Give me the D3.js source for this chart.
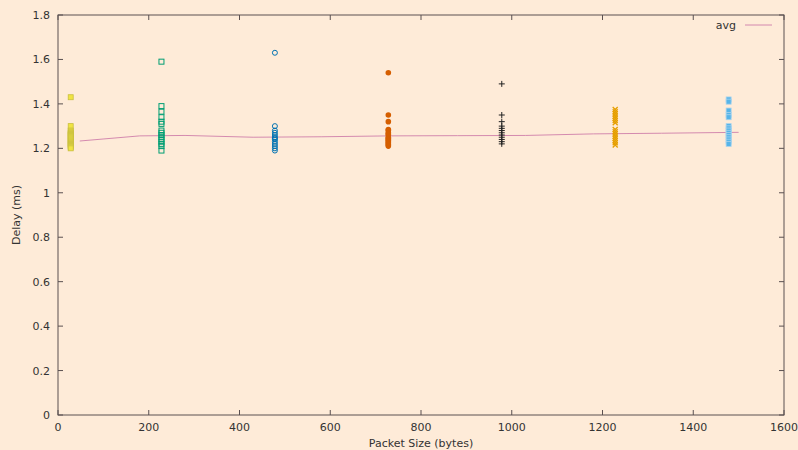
<!DOCTYPE html>
<html>
<head>
<meta charset="utf-8">
<script src="https://cdn.jsdelivr.net/npm/d3@7"></script>
<style>
  body { margin: 0; background: #feebd8; }
  svg { display: block; font-family: 'DejaVu Sans', sans-serif; }
</style>
</head>
<body>
<svg id="chart" width="798" height="450"></svg>
<script>
// packet sizes (bytes) of each sample group
const sizes = [28, 228, 478, 728, 978, 1228, 1478];

// delay samples (ms) per packet size
const d28 = [1.43, 1.30, 1.28, 1.275, 1.27, 1.265, 1.26, 1.255, 1.25, 1.245, 1.24, 1.235, 1.23, 1.225, 1.22, 1.215, 1.21, 1.205, 1.20];
const d228 = [1.59, 1.39, 1.365, 1.34, 1.32, 1.31, 1.28, 1.27, 1.26, 1.25, 1.24, 1.23, 1.22, 1.21, 1.19];
const d478 = [1.63, 1.30, 1.28, 1.27, 1.26, 1.25, 1.245, 1.24, 1.23, 1.22, 1.21, 1.20, 1.19];
const d728 = [1.54, 1.35, 1.32, 1.285, 1.28, 1.27, 1.265, 1.26, 1.25, 1.245, 1.24, 1.235, 1.23, 1.225, 1.22, 1.215, 1.21];
const d978 = [1.49, 1.35, 1.32, 1.30, 1.29, 1.28, 1.27, 1.26, 1.25, 1.24, 1.23, 1.22];
const d1228 = [1.375, 1.365, 1.355, 1.345, 1.335, 1.325, 1.315, 1.285, 1.275, 1.265, 1.255, 1.245, 1.235, 1.225, 1.215];
const d1478 = [1.42, 1.41, 1.37, 1.35, 1.34, 1.30, 1.29, 1.28, 1.27, 1.26, 1.25, 1.24, 1.23, 1.22];

// average curve
const avgX = [48, 180, 280, 430, 580, 730, 880, 1030, 1180, 1330, 1500];
const avgY = [1.233, 1.256, 1.258, 1.25, 1.252, 1.256, 1.257, 1.258, 1.265, 1.268, 1.272];

const xTicks = [0, 200, 400, 600, 800, 1000, 1200, 1400, 1600];
const yTicks = [0, 0.2, 0.4, 0.6, 0.8, 1, 1.2, 1.4, 1.6, 1.8];

const groups = [
  { values: d28, shape: 'sqfill', colour: '#f0e442', edge: '#c9bf3e' },
  { values: d228, shape: 'sqopen', colour: '#009e73' },
  { values: d478, shape: 'circopen', colour: '#0072b2' },
  { values: d728, shape: 'circfill', colour: '#d55e00' },
  { values: d978, shape: 'plus', colour: '#222222' },
  { values: d1228, shape: 'cross', colour: '#e69f00' },
  { values: d1478, shape: 'sqfill', colour: '#56b4e9', edge: '#a9d3ec' }
];

const svg = d3.select('#chart');
const mLeft = 58, mRight = 784, mTop = 15, mBottom = 415;
const axisCol = '#5a5050';

const x = d3.scaleLinear().domain([0, 1600]).range([mLeft, mRight]);
const y = d3.scaleLinear().domain([0, 1.8]).range([mBottom, mTop]);

// frame
svg.append('rect')
  .attr('x', mLeft).attr('y', mTop)
  .attr('width', mRight - mLeft).attr('height', mBottom - mTop)
  .attr('fill', 'none').attr('stroke', axisCol).attr('stroke-width', 1);

// ticks (inward, mirrored)
const tk = svg.append('g').attr('stroke', axisCol);
xTicks.forEach(t => {
  tk.append('line').attr('x1', x(t)).attr('x2', x(t)).attr('y1', mBottom).attr('y2', mBottom - 5);
  tk.append('line').attr('x1', x(t)).attr('x2', x(t)).attr('y1', mTop).attr('y2', mTop + 5);
});
yTicks.forEach(t => {
  tk.append('line').attr('x1', mLeft).attr('x2', mLeft + 5).attr('y1', y(t)).attr('y2', y(t));
  tk.append('line').attr('x1', mRight).attr('x2', mRight - 5).attr('y1', y(t)).attr('y2', y(t));
});

const lbl = svg.append('g').attr('fill', '#333').style('font-size', '11px');
xTicks.forEach(t => {
  lbl.append('text').attr('x', x(t)).attr('y', mBottom + 16)
    .attr('text-anchor', 'middle').text(t);
});
yTicks.forEach(t => {
  lbl.append('text').attr('x', mLeft - 8).attr('y', y(t) + 4)
    .attr('text-anchor', 'end').text(t);
});

lbl.append('text').attr('x', (mLeft + mRight) / 2).attr('y', 447)
  .attr('text-anchor', 'middle').text('Packet Size (bytes)');
lbl.append('text')
  .attr('transform', 'translate(20,' + ((mTop + mBottom) / 2) + ') rotate(-90)')
  .attr('text-anchor', 'middle').text('Delay (ms)');

// avg line
const line = d3.line()
  .x((d, i) => x(avgX[i]))
  .y(d => y(d));
svg.append('path')
  .attr('d', line(avgY))
  .attr('fill', 'none')
  .attr('stroke', '#cc79a7')
  .attr('stroke-opacity', 0.85)
  .attr('stroke-width', 1);

// points
const pts = svg.append('g');
groups.forEach((g, gi) => {
  const px = x(sizes[gi]);
  g.values.forEach(v => {
    const py = y(v);
    if (g.shape === 'sqfill') {
      pts.append('rect').attr('x', px - 2.5).attr('y', py - 2.5)
        .attr('width', 5).attr('height', 5)
        .attr('fill', g.colour).attr('stroke', g.edge).attr('stroke-width', 0.8);
    } else if (g.shape === 'sqopen') {
      pts.append('rect').attr('x', px - 2.5).attr('y', py - 2.5)
        .attr('width', 5).attr('height', 5)
        .attr('fill', 'none').attr('stroke', g.colour).attr('stroke-width', 1);
    } else if (g.shape === 'circopen') {
      pts.append('circle').attr('cx', px).attr('cy', py).attr('r', 2.5)
        .attr('fill', 'none').attr('stroke', g.colour).attr('stroke-width', 1);
    } else if (g.shape === 'circfill') {
      pts.append('circle').attr('cx', px).attr('cy', py).attr('r', 2.8)
        .attr('fill', g.colour);
    } else if (g.shape === 'plus') {
      pts.append('path')
        .attr('d', `M${px - 3},${py}H${px + 3}M${px},${py - 3}V${py + 3}`)
        .attr('stroke', g.colour).attr('stroke-width', 1);
    } else {
      pts.append('path')
        .attr('d', `M${px - 2.5},${py - 2.5}L${px + 2.5},${py + 2.5}M${px - 2.5},${py + 2.5}L${px + 2.5},${py - 2.5}`)
        .attr('stroke', g.colour).attr('stroke-width', 1.3);
    }
  });
});

// legend
svg.append('text').attr('x', 736).attr('y', 29)
  .attr('text-anchor', 'end').attr('fill', '#333')
  .style('font-size', '11px').text('avg');
svg.append('line')
  .attr('x1', 745).attr('x2', 772).attr('y1', 25).attr('y2', 25)
  .attr('stroke', '#cc79a7').attr('stroke-opacity', 0.85);
</script>
</body>
</html>
